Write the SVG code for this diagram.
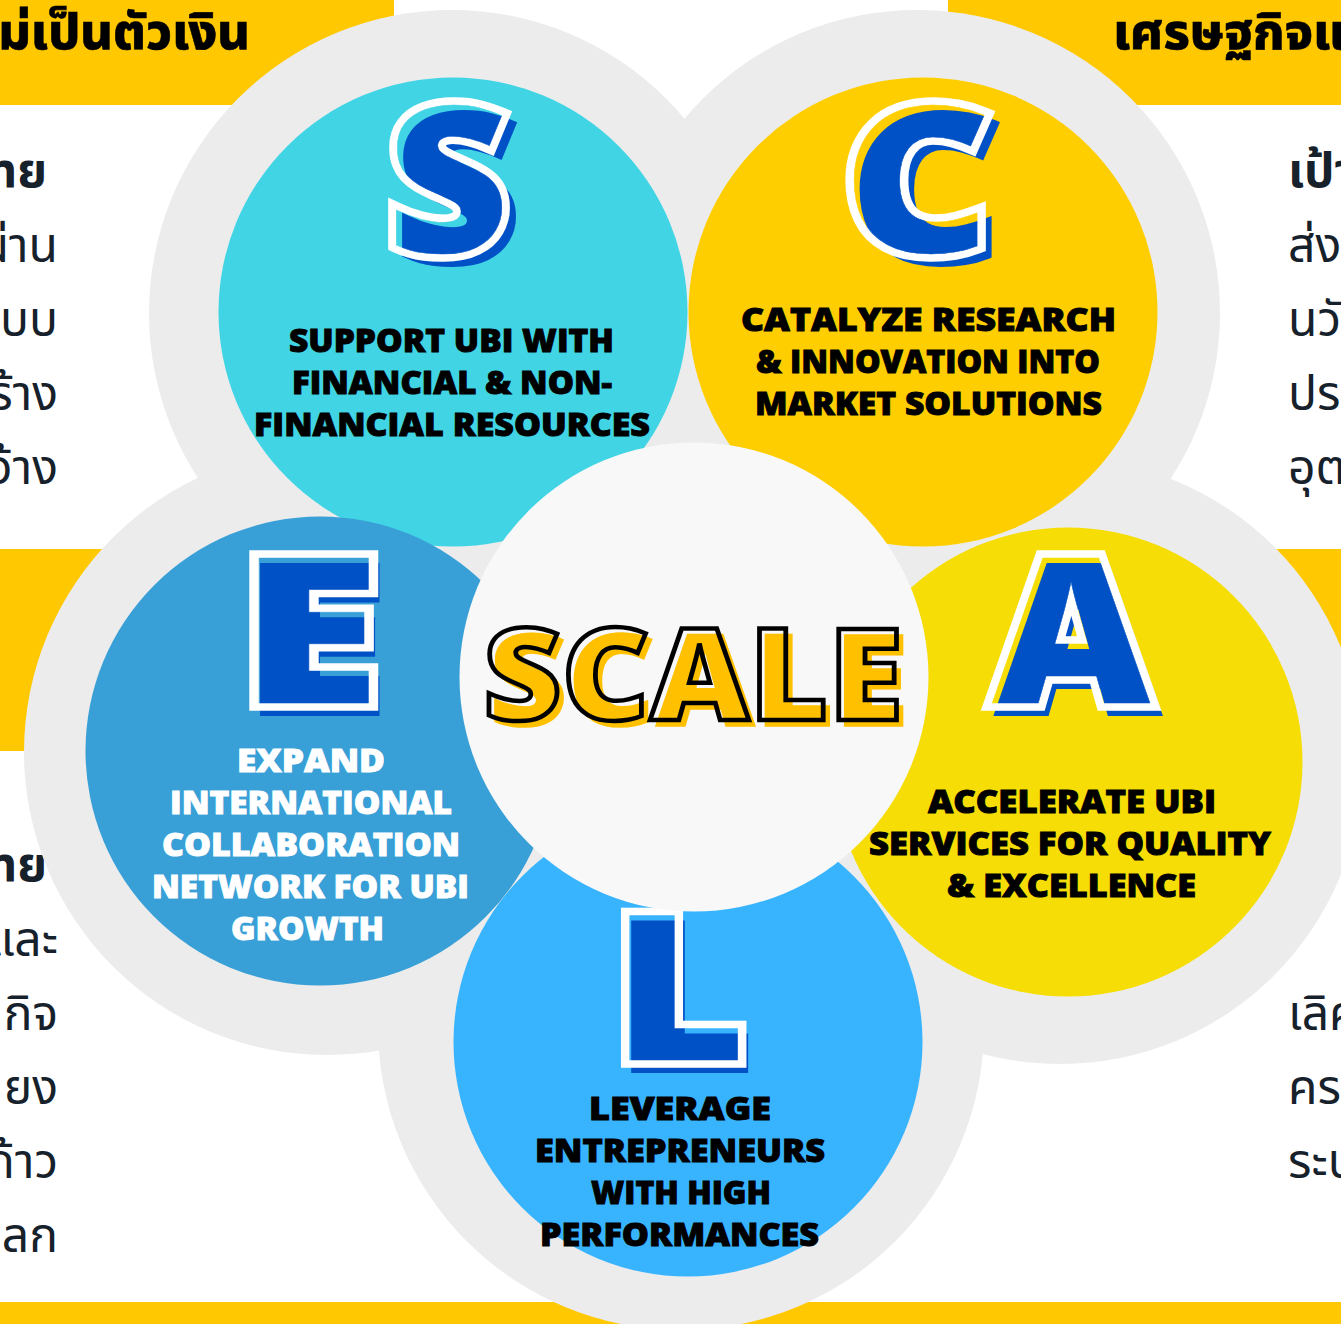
<svg xmlns="http://www.w3.org/2000/svg" width="1341" height="1324" viewBox="0 0 1341 1324">
<style>
.band{fill:#ffc800}
.halo{fill:#ececec}
.lab{font-family:"Open Sans","Noto Sans",sans-serif;font-weight:800;font-size:31px;fill:#000;stroke:#000;stroke-width:.9px}
.wht{fill:#fff;stroke:#fff}
.big{font-family:"Open Sans","Noto Sans",sans-serif;font-weight:800;font-size:203px;text-anchor:middle}
.bf{fill:#0051c6;stroke:#0051c6;stroke-width:8px}
.mo{fill:#fff;stroke:#fff;stroke-width:15.500px}
.mi{fill:#000;stroke:#000;stroke-width:.5px}
.ring{fill:#fff}
.sc{font-family:"Open Sans","Noto Sans",sans-serif;font-weight:800;font-size:127px}
.th{font-family:"Noto Sans","Noto Sans Thai",sans-serif;font-size:48px;fill:#16212b}
.thb{font-weight:700}
.hd{font-family:"Noto Sans","Noto Sans Thai",sans-serif;font-size:50px;font-weight:800;fill:#000;stroke:#000;stroke-width:.6px}
.e{text-anchor:end}
</style>
<defs>
<mask id="m-s" maskUnits="userSpaceOnUse" x="0" y="0" width="1341" height="1324"><text class="big mo" transform="translate(448 252) scale(1.04 1)">S</text><text class="big mi" transform="translate(448 252) scale(1.04 1)">S</text></mask>
<mask id="m-c" maskUnits="userSpaceOnUse" x="0" y="0" width="1341" height="1324"><text class="big mo" transform="translate(917 252) scale(1.13 1)">C</text><text class="big mi" transform="translate(917 252) scale(1.13 1)">C</text></mask>
<mask id="m-a" maskUnits="userSpaceOnUse" x="0" y="0" width="1341" height="1324"><text class="big mo" transform="translate(1071 703) scale(1.07 1)">A</text><text class="big mi" transform="translate(1071 703) scale(1.07 1)">A</text></mask>
<mask id="m-e" maskUnits="userSpaceOnUse" x="0" y="0" width="1341" height="1324"><text class="big mo" transform="translate(310 703) scale(1.27 1)">E</text><text class="big mi" transform="translate(310 703) scale(1.27 1)">E</text></mask>
<mask id="m-l" maskUnits="userSpaceOnUse" x="0" y="0" width="1341" height="1324"><text class="big mo" transform="translate(679 1060) scale(1.135 1)">L</text><text class="big mi" transform="translate(679 1060) scale(1.135 1)">L</text></mask>
</defs>
<rect width="1341" height="1324" fill="#fff"/>
<g id="bands">
<rect class="band" x="0" y="0" width="394" height="105"/>
<rect class="band" x="948" y="0" width="393" height="105"/>
<rect class="band" x="0" y="549" width="200" height="202"/>
<rect class="band" x="1200" y="549" width="141" height="202"/>
<rect class="band" x="0" y="1302" width="1341" height="22"/>
</g>
<g id="side-text">
<text class="hd e" x="250" y="49">ม่เป็นตัวเงิน</text>
<text class="hd" x="1113" y="49">เศรษฐกิจแ</text>
<text class="th thb e" x="47" y="187">ทย</text>
<text class="th e" x="58" y="262">ผ่าน</text>
<text class="th e" x="58" y="336">บบ</text>
<text class="th e" x="58" y="410">ร้าง</text>
<text class="th e" x="58" y="484">ว้าง</text>
<text class="th thb e" x="47" y="881">ทย</text>
<text class="th e" x="58" y="956">และ</text>
<text class="th e" x="58" y="1030">กิจ</text>
<text class="th e" x="58" y="1104">ยง</text>
<text class="th e" x="58" y="1178">ก้าว</text>
<text class="th e" x="58" y="1252">ลก</text>
<text class="th thb" x="1288" y="187">เป้า</text>
<text class="th" x="1288" y="262">ส่ง</text>
<text class="th" x="1288" y="336">นวั</text>
<text class="th" x="1288" y="410">ปร</text>
<text class="th" x="1288" y="484">อุต</text>
<text class="th" x="1288" y="1030">เลิศ</text>
<text class="th" x="1288" y="1104">คร</text>
<text class="th" x="1288" y="1178">ระบ</text>
</g>
<g id="halos">
<circle class="halo" cx="452" cy="313" r="303"/>
<circle class="halo" cx="917" cy="313" r="303"/>
<circle class="halo" cx="327" cy="752" r="303"/>
<circle class="halo" cx="1060" cy="761" r="303"/>
<circle class="halo" cx="681" cy="1027" r="303"/>
</g>
<g id="node-s">
<circle cx="453" cy="312" r="234.500" fill="#41d4e4"/>
<text class="big bf" transform="translate(458 261) scale(1.04 1)">S</text>
<rect class="ring" x="340" y="60" width="230" height="240" mask="url(#m-s)"/>
<text class="lab" x="289" y="352" textLength="325" lengthAdjust="spacingAndGlyphs">SUPPORT UBI WITH</text>
<text class="lab" x="292" y="394" textLength="320" lengthAdjust="spacingAndGlyphs">FINANCIAL &amp; NON-</text>
<text class="lab" x="254" y="436" textLength="396" lengthAdjust="spacingAndGlyphs">FINANCIAL RESOURCES</text>
</g>
<g id="node-c">
<circle cx="923" cy="312" r="234.500" fill="#ffce00"/>
<text class="big bf" transform="translate(927 261) scale(1.13 1)">C</text>
<rect class="ring" x="810" y="60" width="230" height="240" mask="url(#m-c)"/>
<text class="lab" x="741" y="331" textLength="375" lengthAdjust="spacingAndGlyphs">CATALYZE RESEARCH</text>
<text class="lab" x="756" y="373" textLength="344" lengthAdjust="spacingAndGlyphs">&amp; INNOVATION INTO</text>
<text class="lab" x="755" y="415" textLength="347" lengthAdjust="spacingAndGlyphs">MARKET SOLUTIONS</text>
</g>
<g id="node-a">
<circle cx="1068" cy="762" r="234.500" fill="#f5dd05"/>
<text class="big bf" transform="translate(1078 712) scale(1.07 1)">A</text>
<rect class="ring" x="950" y="510" width="240" height="240" mask="url(#m-a)"/>
<text class="lab" x="928" y="813" textLength="288" lengthAdjust="spacingAndGlyphs">ACCELERATE UBI</text>
<text class="lab" x="869" y="855" textLength="402" lengthAdjust="spacingAndGlyphs">SERVICES FOR QUALITY</text>
<text class="lab" x="947" y="897" textLength="249" lengthAdjust="spacingAndGlyphs">&amp; EXCELLENCE</text>
</g>
<g id="node-e">
<circle cx="320" cy="751" r="234.500" fill="#38a0d6"/>
<text class="big bf" transform="translate(316 712) scale(1.27 1)">E</text>
<rect class="ring" x="200" y="510" width="230" height="240" mask="url(#m-e)"/>
<text class="lab wht" x="237" y="772" textLength="148" lengthAdjust="spacingAndGlyphs">EXPAND</text>
<text class="lab wht" x="170" y="814" textLength="282" lengthAdjust="spacingAndGlyphs">INTERNATIONAL</text>
<text class="lab wht" x="162" y="856" textLength="298" lengthAdjust="spacingAndGlyphs">COLLABORATION</text>
<text class="lab wht" x="152" y="898" textLength="317" lengthAdjust="spacingAndGlyphs">NETWORK FOR UBI</text>
<text class="lab wht" x="231" y="940" textLength="153" lengthAdjust="spacingAndGlyphs">GROWTH</text>
</g>
<g id="node-l">
<circle cx="688" cy="1042" r="234.500" fill="#38b4ff"/>
<text class="big bf" transform="translate(685 1069) scale(1.135 1)">L</text>
<rect class="ring" x="570" y="880" width="230" height="220" mask="url(#m-l)"/>
<text class="lab" x="589" y="1120" textLength="182" lengthAdjust="spacingAndGlyphs">LEVERAGE</text>
<text class="lab" x="535" y="1162" textLength="290" lengthAdjust="spacingAndGlyphs">ENTREPRENEURS</text>
<text class="lab" x="591" y="1204" textLength="180" lengthAdjust="spacingAndGlyphs">WITH HIGH</text>
<text class="lab" x="540" y="1246" textLength="279" lengthAdjust="spacingAndGlyphs">PERFORMANCES</text>
</g>
<g id="node-scale">
<circle cx="694" cy="677" r="234.500" fill="#f8f8f8"/>
<text class="sc" x="489" y="726" textLength="420" lengthAdjust="spacingAndGlyphs" fill="#ffc000" stroke="#ffc000" stroke-width="1.500">SCALE</text>
<text class="sc" x="483" y="720" textLength="420" lengthAdjust="spacingAndGlyphs" fill="none" stroke="#000" stroke-width="4.500">SCALE</text>
</g>
</svg>
